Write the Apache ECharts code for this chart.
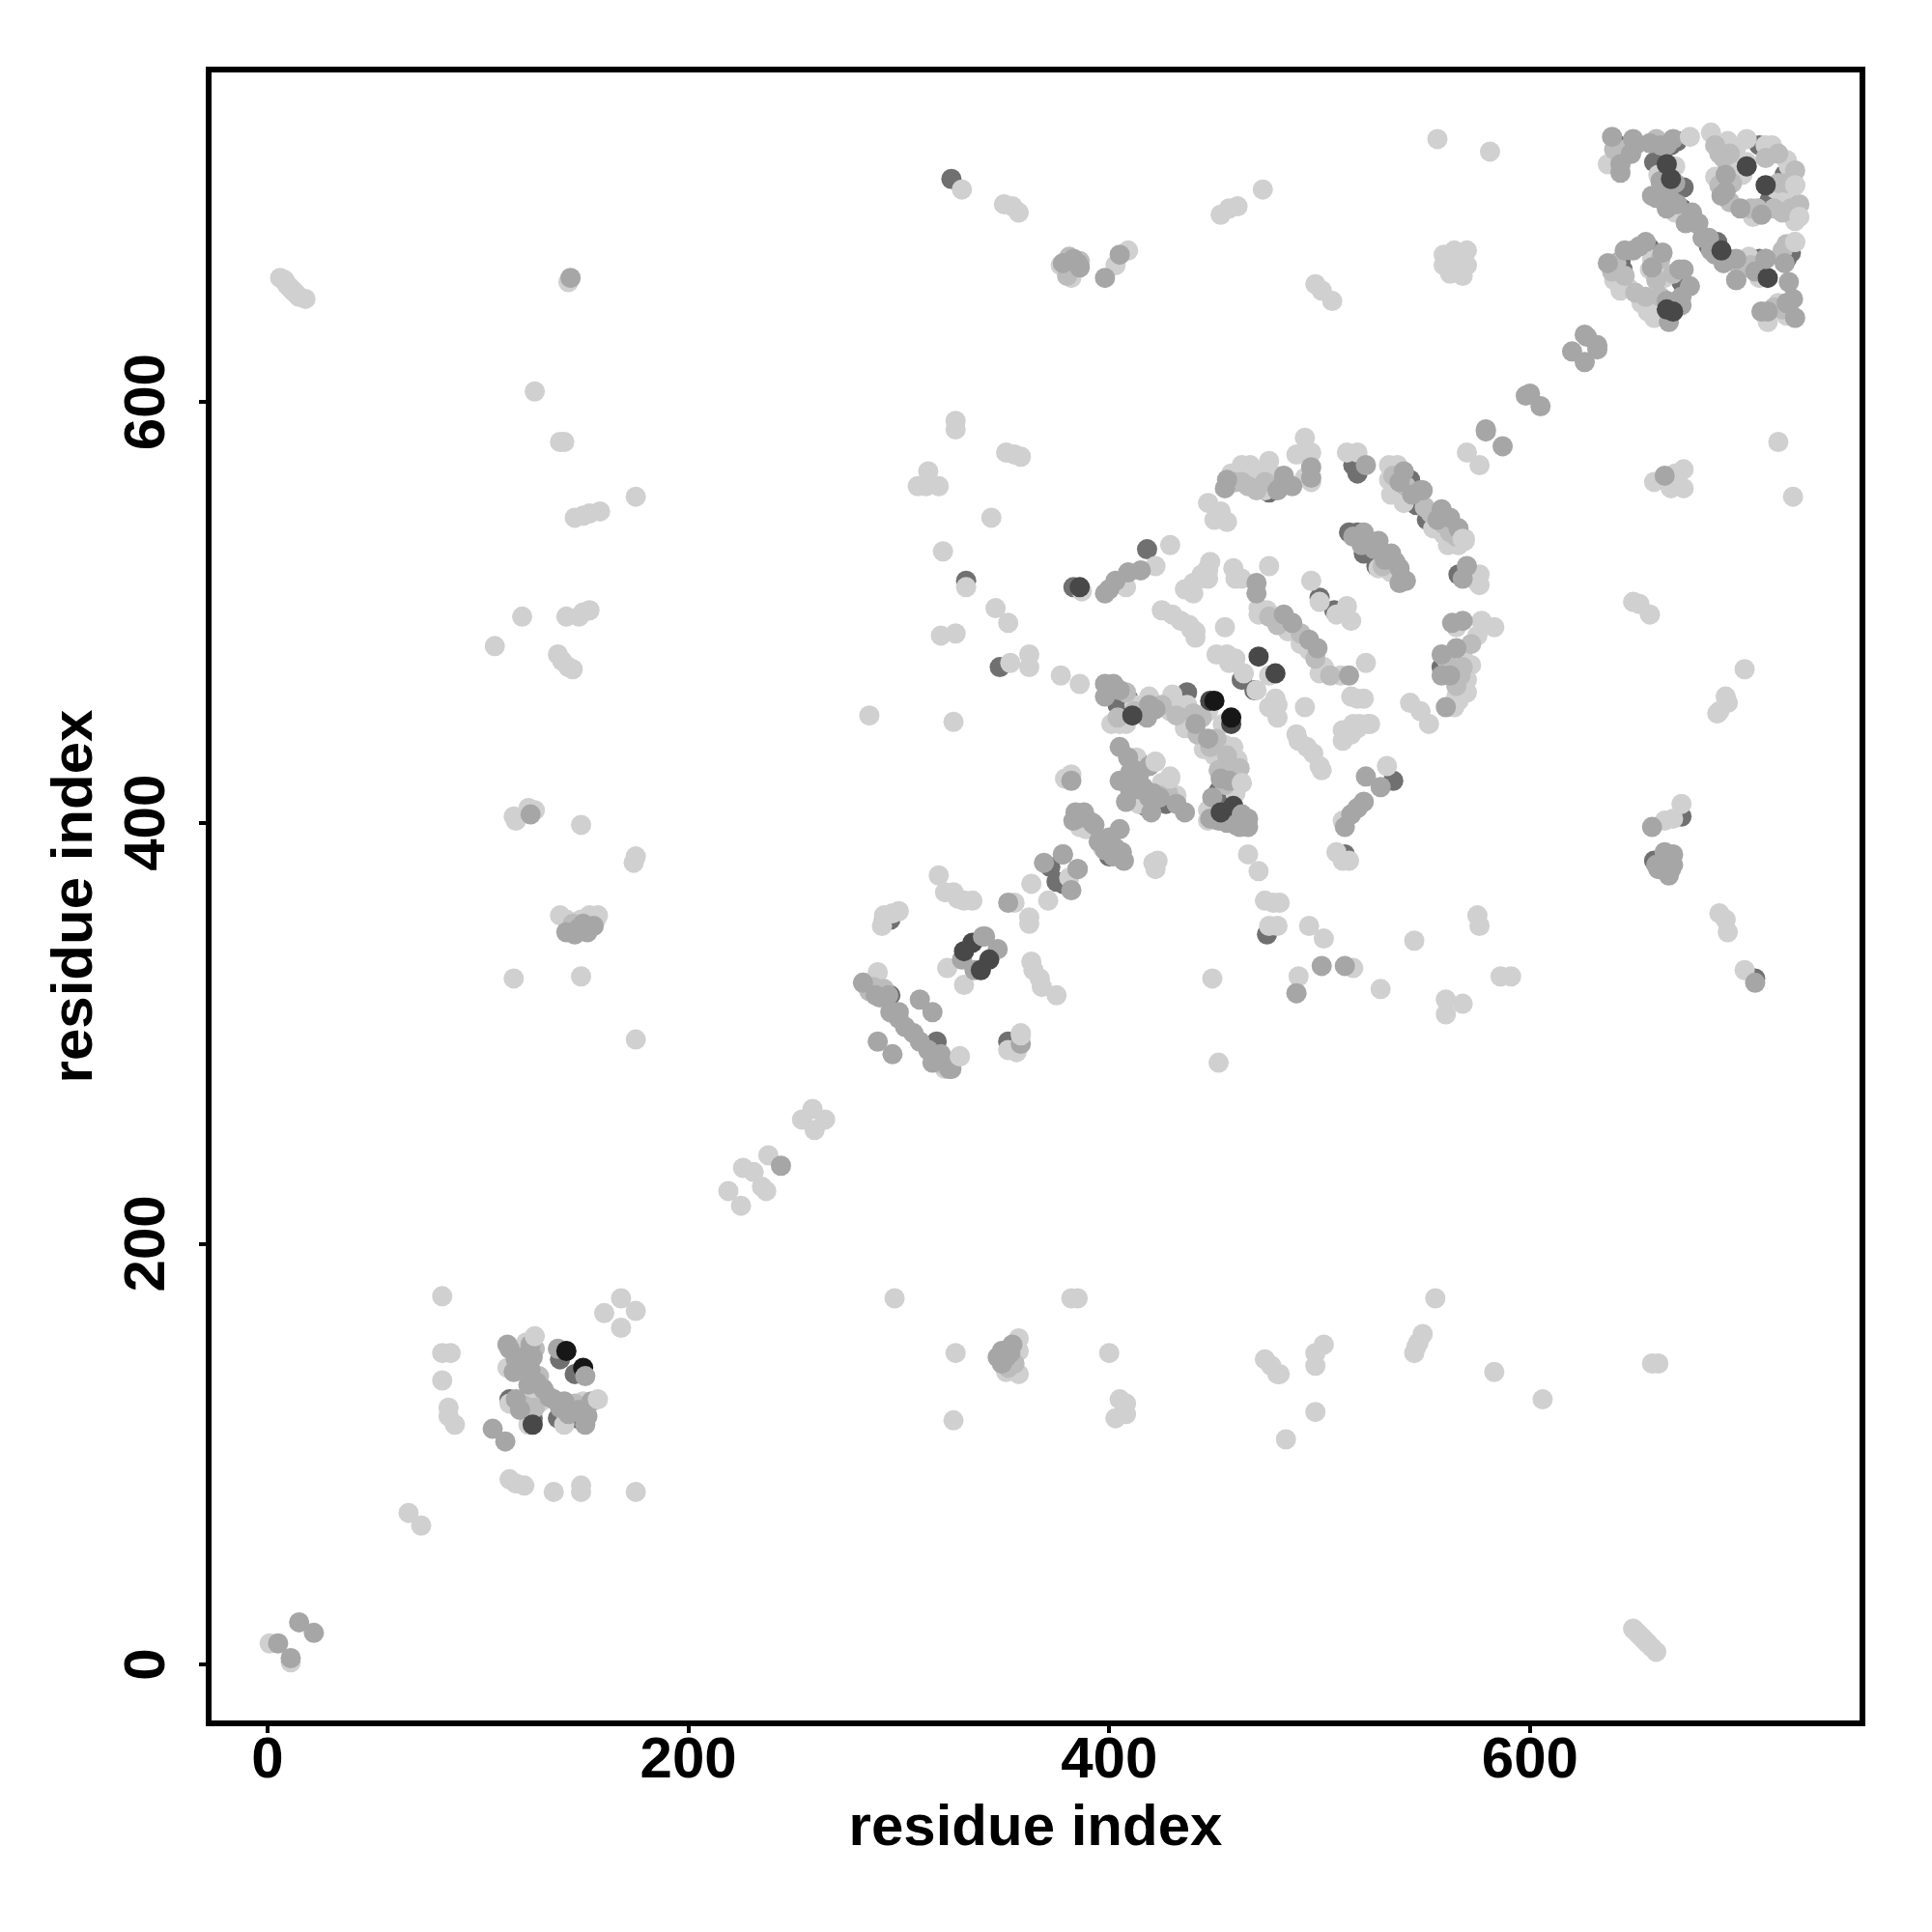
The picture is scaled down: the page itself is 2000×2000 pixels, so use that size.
<!DOCTYPE html>
<html><head><meta charset="utf-8">
<style>html,body{margin:0;padding:0;background:#fff}#c{width:2000px;height:2000px}</style>
<script src="https://cdn.jsdelivr.net/npm/echarts@6/dist/echarts.min.js"></script>
</head><body><div id="c"></div>
<script>
var tickValues = [0, 200, 400, 600];
var axisName = 'residue index';
var darkMid = [[118,148],[121,147],[115,126],[126,117],[138,117],[147,117],[139,145],[146,138],[296,354],[293,354],[296,318],[318,296],[372,379],[378,371],[352,296],[409,459],[404,456],[416,453],[414,429],[417,408],[427,409],[452,415],[453,410],[390,401],[400,384],[375,372],[437,462],[383,512],[516,570],[518,566],[476,557],[546,551],[543,563],[540,558],[551,544],[514,538],[518,538],[521,528],[538,518],[527,522],[566,518],[558,474],[463,468],[469,463],[500,507],[507,501],[348,474],[332,515],[325,706],[381,660],[535,420],[512,385],[659,382],[666,382],[672,403],[707,326],[642,722],[670,724],[667,722],[659,714],[672,692],[676,689],[694,711],[709,722],[714,696],[712,693],[721,708],[689,676],[685,674],[709,668],[724,671],[722,668],[643,667],[644,663],[657,673],[672,657],[673,702],[475,347],[418,530]];
var light = [[1,10],[11,1],[67,72],[73,66],[115,88],[118,86],[122,85],[136,82],[149,85],[149,82],[175,82],[83,175],[83,148],[87,148],[83,135],[86,122],[86,118],[89,114],[168,174],[168,160],[175,168],[160,167],[114,141],[115,124],[124,130],[124,114],[130,125],[141,114],[150,125],[123,153],[298,174],[327,148],[326,116],[351,139],[357,138],[357,155],[357,149],[382,174],[385,174],[400,148],[405,126],[408,124],[403,117],[408,119],[474,145],[477,142],[480,138],[481,138],[484,107],[498,120],[498,142],[498,148],[502,152],[545,148],[547,153],[549,157],[546,151],[555,174],[583,139],[606,126],[658,143],[661,143],[649,17],[650,16],[651,15],[652,14],[653,13],[654,12],[655,11],[656,10],[658,8],[660,6],[219,225],[225,218],[226,236],[231,234],[235,227],[237,225],[238,242],[254,259],[259,264],[265,259],[260,254],[319,375],[322,367],[326,367],[328,364],[331,363],[335,363],[292,351],[293,356],[297,357],[300,358],[323,331],[331,323],[363,371],[355,362],[362,355],[362,352],[371,363],[363,334],[364,330],[367,326],[368,322],[375,318],[290,329],[283,324],[285,322],[329,289],[322,286],[322,283],[358,300],[352,292],[356,291],[381,374],[286,451],[326,448],[377,470],[386,466],[412,456],[419,460],[405,447],[401,447],[408,447],[430,461],[429,453],[437,456],[433,456],[436,445],[447,453],[454,447],[445,435],[459,436],[455,437],[450,432],[461,430],[456,429],[413,431],[422,429],[429,422],[425,419],[463,419],[460,414],[414,409],[432,413],[447,406],[447,401],[458,403],[382,423],[379,421],[386,398],[389,397],[397,388],[423,382],[421,381],[422,378],[466,385],[471,377],[474,363],[478,362],[481,362],[476,351],[480,351],[495,351],[502,345],[490,327],[489,319],[516,331],[529,321],[545,344],[449,326],[452,286],[560,316],[560,309],[568,314],[586,327],[591,327],[575,356],[576,351],[664,401],[668,402],[672,409],[690,357],[693,354],[694,348],[702,330],[702,473],[693,460],[690,453],[689,452],[694,457],[649,505],[652,504],[657,499],[659,562],[665,562],[669,566],[673,568],[673,559],[667,559],[718,581],[725,555],[556,725],[581,719],[330,701],[350,694],[354,693],[357,690],[377,665],[382,659],[403,665],[409,672],[453,689],[457,692],[461,693],[473,701],[498,656],[501,653],[506,648],[559,670],[559,665],[562,661],[564,672],[567,668],[570,672],[570,665],[568,660],[563,666],[6,659],[8,658],[9,656],[10,655],[11,654],[12,653],[13,652],[14,651],[15,650],[18,649],[143,657],[127,605],[139,581],[141,581],[146,545],[150,546],[153,547],[158,548],[175,555],[121,498],[108,484],[142,498],[148,498],[150,500],[153,501],[138,480],[140,477],[145,473],[143,474],[117,403],[118,401],[124,407],[127,406],[149,399],[175,384],[174,381],[139,356],[142,354],[153,356],[157,356],[156,354],[149,354],[149,327],[117,326],[175,297],[570,576],[576,570],[493,583],[489,575],[496,576],[493,564],[496,562],[513,576],[518,576],[533,570],[537,570],[533,563],[536,560],[534,556],[540,552],[559,537],[569,535],[566,532],[561,532],[554,540],[558,545],[447,552],[453,548],[456,543],[450,544],[458,566],[463,570],[467,570],[476,572],[471,566],[470,562],[474,558],[479,565],[521,535],[528,521],[534,519],[576,518],[576,513],[573,516],[476,522],[448,524],[447,520],[447,516],[443,516],[440,514],[440,509],[459,521],[460,516],[463,516],[471,502],[475,501],[471,499],[479,496],[489,491],[485,491],[496,515],[500,505],[513,503],[508,499],[515,496],[455,493],[491,485],[495,482],[502,474],[500,471],[510,470],[522,476],[515,460],[521,459],[518,459],[493,455],[577,496],[583,493],[575,489],[565,493],[572,475],[568,479],[564,476],[565,470],[570,468],[570,462],[565,460],[564,455],[566,458],[543,457],[548,453],[552,447],[470,463],[476,470],[451,480],[456,480],[460,478],[464,471],[457,476],[479,459],[476,455],[480,450],[480,456],[516,447],[524,447],[519,447],[511,444],[489,442],[441,491],[438,494],[441,488],[490,439],[494,436],[497,433],[500,427],[501,425],[511,439],[515,442],[518,445],[523,447],[511,401],[532,427],[511,382],[514,382],[508,386],[429,532],[422,522],[408,512],[387,510],[436,511],[439,512],[444,518],[447,521],[425,501],[430,499],[434,496],[439,492],[327,591],[327,587],[314,567],[309,560],[313,560],[319,560],[344,545],[351,576],[355,575],[358,574],[321,529],[332,512],[320,489],[327,490],[346,502],[352,495],[353,476],[362,480],[362,474],[637,713],[643,718],[686,728],[694,724],[703,725],[698,721],[715,722],[712,722],[722,715],[723,712],[726,703],[717,701],[688,707],[701,708],[706,688],[726,686],[723,696],[720,697],[704,669],[709,659],[703,666],[726,676],[713,638],[718,647],[722,641],[658,668],[657,663],[640,658],[647,654],[643,653],[640,661],[653,647],[656,643],[659,640],[664,659],[669,712],[661,708],[669,690],[696,712],[703,714]];
var pale = [[121,143],[127,150],[129,137],[132,129],[122,123],[127,122],[144,122],[146,124],[640,720],[645,720],[660,725],[688,722],[690,718],[692,716],[695,718],[690,703],[696,704],[695,695],[705,692],[708,692],[716,692],[720,690],[724,692],[728,694],[722,704],[718,704],[712,716],[718,718],[726,710],[694,668],[700,663],[705,665],[720,672],[722,675],[639,662],[641,666],[645,660],[650,652],[655,650],[662,650],[668,661],[660,658],[662,668],[716,645],[720,644],[723,644],[408,462],[412,453],[425,456],[432,451],[440,452],[444,450],[404,450],[442,442],[451,440],[456,432],[462,426],[452,425],[455,418],[428,414],[448,436],[460,424],[535,565],[541,560],[550,550],[553,547],[559,542],[562,538],[565,536],[530,522],[560,478],[568,474],[565,465],[567,470],[572,485],[476,498],[480,494],[491,490],[498,478],[505,470],[463,562],[466,560],[470,558],[474,562],[460,562],[288,322],[286,320],[293,321],[319,286],[355,143],[352,141],[145,352],[383,664],[380,660],[386,667],[381,669]];
var mid = [[5,10],[11,3],[15,20],[22,15],[107,112],[113,106],[114,152],[115,150],[125,152],[117,139],[125,140],[128,134],[124,133],[118,126],[134,127],[141,125],[138,150],[151,114],[154,125],[347,146],[349,143],[351,149],[354,152],[244,237],[330,335],[341,346],[347,340],[336,330],[352,362],[283,324],[289,318],[291,317],[297,310],[300,307],[307,300],[310,296],[318,289],[320,290],[324,283],[310,316],[316,310],[290,296],[297,290],[358,295],[369,381],[385,378],[378,385],[382,368],[398,466],[402,466],[405,463],[419,456],[422,454],[441,447],[447,440],[405,436],[409,431],[419,427],[405,420],[414,422],[410,415],[421,414],[420,405],[432,409],[436,405],[453,421],[457,420],[463,404],[466,402],[466,398],[384,405],[388,405],[383,401],[382,420],[393,399],[400,393],[406,386],[407,382],[403,388],[378,385],[385,378],[501,332],[512,332],[489,319],[658,398],[663,381],[668,385],[667,378],[707,324],[664,565],[398,659],[383,668],[386,664],[385,666],[378,666],[405,670],[144,659],[125,404],[142,348],[146,347],[152,348],[155,351],[579,587],[496,569],[496,564],[455,559],[456,563],[480,558],[483,565],[522,570],[540,567],[549,558],[558,549],[562,545],[566,540],[521,538],[528,534],[524,532],[534,528],[531,525],[538,521],[538,514],[570,522],[568,516],[470,514],[470,509],[483,499],[487,495],[495,487],[499,483],[514,470],[563,495],[568,496],[558,480],[565,483],[560,455],[512,398],[515,404],[521,410],[522,422],[529,417],[518,407],[415,520],[409,519],[403,515],[400,511],[398,509],[639,726],[649,725],[643,713],[643,709],[648,718],[657,723],[665,722],[668,725],[669,704],[658,698],[664,698],[665,692],[674,685],[679,685],[693,708],[693,700],[691,698],[700,692],[710,689],[685,678],[692,666],[698,668],[698,658],[712,668],[721,666],[723,657],[710,643],[725,649],[726,640],[713,643],[637,666],[645,672],[655,676],[663,671],[658,664],[666,638],[672,646],[671,663],[676,655],[672,650],[626,632],[632,627],[627,631],[620,624],[626,619],[632,625],[600,604],[598,603],[605,598],[579,586],[587,579],[118,145],[123,147],[126,146],[131,131],[136,126],[139,122],[148,121],[152,118],[150,119],[120,121],[143,119],[650,722],[662,722],[662,705],[663,702],[660,697],[667,696],[670,694],[677,690],[682,678],[686,672],[688,670],[707,662],[649,672],[652,674],[665,648],[670,648],[722,647],[418,450],[398,460],[412,425],[416,417],[410,424],[408,410],[419,412],[424,412],[414,416],[449,412],[448,402],[452,401],[456,400],[460,399],[462,398],[538,562],[544,556],[556,544],[520,532],[526,530],[536,524],[516,536],[562,470],[558,470],[482,560],[487,560],[300,310],[303,303],[314,292],[316,286],[295,318],[660,380],[664,386],[668,380],[661,378],[666,375],[349,149],[351,146],[353,148],[148,350],[150,352],[405,397],[398,387],[402,384],[395,391],[385,402],[392,400]];
var dark = [[126,114],[335,343],[331,339],[343,335],[339,330],[411,451],[448,458],[458,447],[453,405],[459,408],[386,512],[471,479],[479,471],[665,713],[667,706],[703,712],[712,703],[691,672],[713,659],[665,644],[668,643]];
var black = [[142,149],[150,141],[450,458],[458,450]];
var midTop = [[151,137],[340,346],[463,404],[325,283],[296,310],[548,558],[673,663],[648,718],[680,685],[698,658],[712,668],[541,515]];
var lightTop = [[127,156],[157,126],[676,726],[429,421],[422,429],[463,419],[726,703],[728,688],[726,676],[568,535],[569,534],[358,299],[329,289]];
var shadeColors = ['#707070', '#d0d0d0', '#bcbcbc', '#a6a6a6', '#484848', '#171717', '#a6a6a6', '#d0d0d0'];
var shadeData = [darkMid, light, pale, mid, dark, black, midTop, lightTop];

var chart = echarts.init(document.getElementById('c'), null, {renderer: 'canvas'});
function axis(extra) {
  return Object.assign({
    type: 'value', min: -28, max: 758, name: axisName, nameLocation: 'middle',
    nameTextStyle: {fontFamily: 'Liberation Sans', fontWeight: 'bold', fontSize: 60, color: '#000'},
    axisLine: {show: false, onZero: false},
    splitLine: {show: false},
    axisTick: {show: true, length: 10, inside: false, customValues: tickValues, lineStyle: {color: '#000', width: 4}},
  }, extra);
}
var labelStyle = {show: true, customValues: tickValues, color: '#000', fontFamily: 'Liberation Sans', fontWeight: 'bold', fontSize: 60};
chart.setOption({
  animation: false,
  backgroundColor: '#fff',
  grid: {left: 216, top: 72, width: 1712, height: 1712, show: true, borderColor: '#000', borderWidth: 6, backgroundColor: 'transparent'},
  xAxis: axis({nameGap: 79, axisLabel: Object.assign({margin: 9}, labelStyle)}),
  yAxis: axis({nameGap: 108, axisLabel: Object.assign({margin: 33, rotate: 90}, labelStyle)}),
  series: shadeData.map(function (d, i) {
    return {type: 'scatter', data: d, symbol: 'circle', symbolSize: 21, silent: true, large: false,
      itemStyle: {color: shadeColors[i], opacity: 1, borderWidth: 0}};
  })
});
</script></body></html>
